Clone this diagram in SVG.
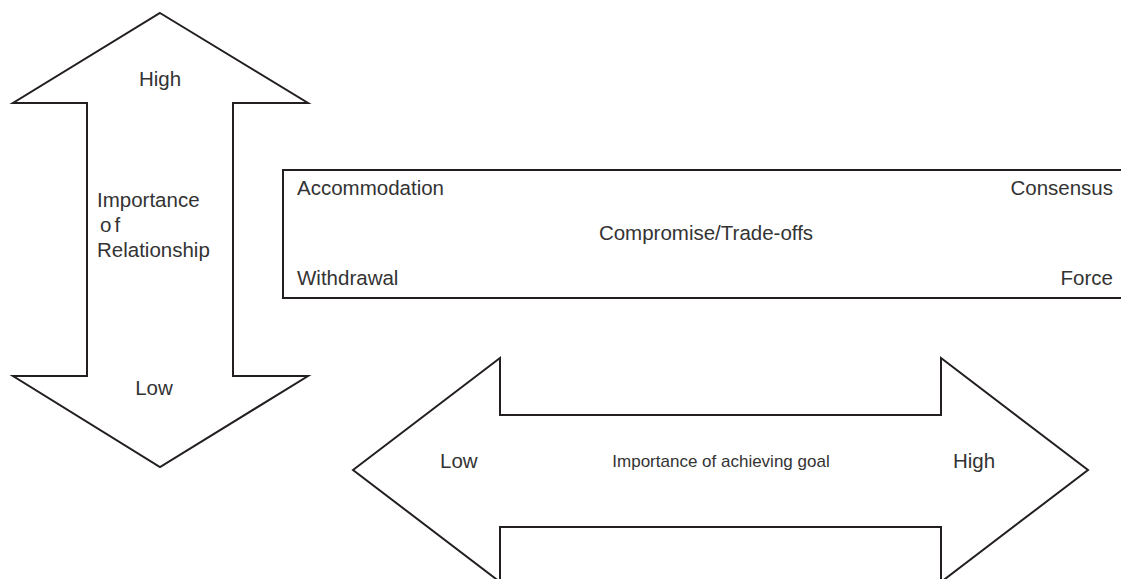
<svg xmlns="http://www.w3.org/2000/svg" width="1121" height="579" viewBox="0 0 1121 579">
  <style>
    .shape { fill: #ffffff; stroke: #231f20; stroke-width: 2; stroke-linejoin: miter; }
    .lbl { font-family: "Liberation Sans", Arial, sans-serif; font-size: 20.5px; fill: #333333; }
    .small { font-size: 17px; }
  </style>
  <rect x="0" y="0" width="1121" height="579" fill="#ffffff"/>

  <!-- vertical double arrow: importance of relationship -->
  <g id="relationship-arrow">
    <path class="shape" d="M160,13 L308,103 L233,103 L233,376 L308,376 L160,467 L13,376 L87,376 L87,103 L13,103 Z"/>
    <text class="lbl" x="160" y="86" text-anchor="middle">High</text>
    <text class="lbl" x="97" y="207">Importance</text>
    <text class="lbl" x="100" y="232" letter-spacing="3">of</text>
    <text class="lbl" x="97" y="257">Relationship</text>
    <text class="lbl" x="154" y="395" text-anchor="middle">Low</text>
  </g>

  <!-- strategy box -->
  <g id="strategies">
    <path class="shape" d="M1125,170 L283,170 L283,298 L1125,298"/>
    <text class="lbl" x="297" y="195">Accommodation</text>
    <text class="lbl" x="1113" y="195" text-anchor="end">Consensus</text>
    <text class="lbl" x="706" y="240" text-anchor="middle">Compromise/Trade-offs</text>
    <text class="lbl" x="297" y="285">Withdrawal</text>
    <text class="lbl" x="1113" y="285" text-anchor="end">Force</text>
  </g>

  <!-- horizontal double arrow: importance of achieving goal -->
  <g id="goal-arrow">
    <path class="shape" d="M353,470 L500,358 L500,415 L941,415 L941,358 L1088,470 L941,582 L941,527 L500,527 L500,582 Z"/>
    <text class="lbl" x="440" y="468">Low</text>
    <text class="lbl small" x="721" y="467" text-anchor="middle">Importance of achieving goal</text>
    <text class="lbl" x="953" y="468">High</text>
  </g>
</svg>
